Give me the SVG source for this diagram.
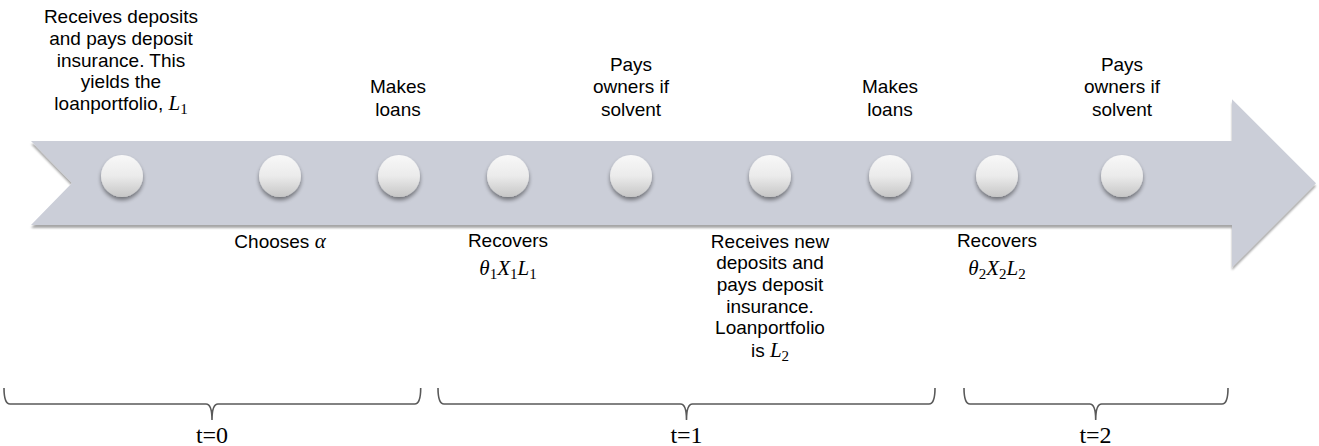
<svg xmlns="http://www.w3.org/2000/svg" width="1319" height="446" viewBox="0 0 1319 446">
<defs>
<style>
.lbl{font-family:"Liberation Sans",Arial,sans-serif;font-size:19px;fill:#000;text-anchor:middle}
.m{font-family:"Liberation Serif","Times New Roman",serif;font-style:italic;font-size:21px}
.s{font-family:"Liberation Serif","Times New Roman",serif;font-style:normal;font-size:15px}
.t{font-family:"Liberation Serif","Times New Roman",serif;font-size:24px;fill:#000;text-anchor:middle}
.brace{fill:none;stroke:#595959;stroke-width:1.6}
.dot{fill:url(#dotGrad);filter:url(#dotShadow)}
</style>
<linearGradient id="dotGrad" x1="0" y1="0" x2="0" y2="1">
<stop offset="0" stop-color="#f8f8f8"/>
<stop offset="0.5" stop-color="#ebebeb"/>
<stop offset="1" stop-color="#c6c6c6"/>
</linearGradient>
<filter id="dotShadow" x="-50%" y="-50%" width="200%" height="200%">
<feGaussianBlur in="SourceAlpha" stdDeviation="2"/>
<feOffset dy="3" result="b"/>
<feComponentTransfer><feFuncA type="linear" slope="0.45"/></feComponentTransfer>
<feMerge><feMergeNode/><feMergeNode in="SourceGraphic"/></feMerge>
</filter>
<filter id="arrowShadow" x="-5%" y="-20%" width="110%" height="140%">
<feGaussianBlur in="SourceAlpha" stdDeviation="1.2"/>
<feOffset dy="2.5" result="b"/>
<feComponentTransfer><feFuncA type="linear" slope="0.35"/></feComponentTransfer>
<feMerge><feMergeNode/><feMergeNode in="SourceGraphic"/></feMerge>
</filter>
</defs>
<g id="timeline-arrow">
<polygon points="31,141 1232,141 1232,99.3 1316,183.3 1232,267.3 1232,225 31,225 72,183" fill="#cbced8" filter="url(#arrowShadow)"/>
</g>
<g id="dots">
<circle class="dot" cx="122" cy="176" r="21"/>
<circle class="dot" cx="280" cy="176" r="21"/>
<circle class="dot" cx="399" cy="176" r="21"/>
<circle class="dot" cx="508" cy="176" r="21"/>
<circle class="dot" cx="631" cy="176" r="21"/>
<circle class="dot" cx="770" cy="176" r="21"/>
<circle class="dot" cx="890" cy="176" r="21"/>
<circle class="dot" cx="997" cy="176" r="21"/>
<circle class="dot" cx="1122" cy="176" r="21"/>
</g>
<g id="label-receives-deposits">
<text class="lbl" x="121" y="23">Receives deposits</text>
<text class="lbl" x="121" y="44.8">and pays deposit</text>
<text class="lbl" x="121" y="66.6">insurance. This</text>
<text class="lbl" x="121" y="88.4">yields the</text>
<text class="lbl" x="121" y="110.2">loanportfolio, <tspan class="m">L</tspan><tspan class="s" dy="4">1</tspan></text>
</g>
<g id="label-makes-loans-1">
<text class="lbl" x="398" y="93.3">Makes</text>
<text class="lbl" x="398" y="116">loans</text>
</g>
<g id="label-pays-owners-1">
<text class="lbl" x="631" y="70.7">Pays</text>
<text class="lbl" x="631" y="93.3">owners if</text>
<text class="lbl" x="631" y="116">solvent</text>
</g>
<g id="label-makes-loans-2">
<text class="lbl" x="890" y="93.3">Makes</text>
<text class="lbl" x="890" y="116">loans</text>
</g>
<g id="label-pays-owners-2">
<text class="lbl" x="1122" y="70.7">Pays</text>
<text class="lbl" x="1122" y="93.3">owners if</text>
<text class="lbl" x="1122" y="116">solvent</text>
</g>
<g id="label-chooses-alpha">
<text class="lbl" x="280" y="247.7">Chooses <tspan class="m">α</tspan></text>
</g>
<g id="label-recovers-1">
<text class="lbl" x="508" y="247.3">Recovers</text>
<text class="lbl" x="508" y="274.5"><tspan class="m">θ</tspan><tspan class="s" dy="4">1</tspan><tspan class="m" dy="-4">X</tspan><tspan class="s" dy="4">1</tspan><tspan class="m" dy="-4">L</tspan><tspan class="s" dy="4">1</tspan></text>
</g>
<g id="label-receives-new">
<text class="lbl" x="770" y="247.5">Receives new</text>
<text class="lbl" x="770" y="269.2">deposits and</text>
<text class="lbl" x="770" y="290.9">pays deposit</text>
<text class="lbl" x="770" y="312.6">insurance.</text>
<text class="lbl" x="770" y="334.3">Loanportfolio</text>
<text class="lbl" x="770" y="357">is <tspan class="m">L</tspan><tspan class="s" dy="4">2</tspan></text>
</g>
<g id="label-recovers-2">
<text class="lbl" x="997" y="247.3">Recovers</text>
<text class="lbl" x="997" y="274.5"><tspan class="m">θ</tspan><tspan class="s" dy="4">2</tspan><tspan class="m" dy="-4">X</tspan><tspan class="s" dy="4">2</tspan><tspan class="m" dy="-4">L</tspan><tspan class="s" dy="4">2</tspan></text>
</g>
<g id="connectors">
<path class="brace" d="M4,388 Q4,404 10,404 L206,404 Q212,404 212,420 Q212,404 218,404 L414.7,404 Q420.7,404 420.7,388"/>
<path class="brace" d="M438,388 Q438,404 444,404 L680.5,404 Q686.5,404 686.5,420 Q686.5,404 692.5,404 L929,404 Q935,404 935,388"/>
<path class="brace" d="M964,388 Q964,404 970,404 L1089.7,404 Q1095.7,404 1095.7,420 Q1095.7,404 1101.7,404 L1222,404 Q1228,404 1228,388"/>
</g>
<g id="period-labels">
<text class="t" x="212" y="442.7">t=0</text>
<text class="t" x="686.5" y="442.7">t=1</text>
<text class="t" x="1095.5" y="442.7">t=2</text>
</g>
</svg>
